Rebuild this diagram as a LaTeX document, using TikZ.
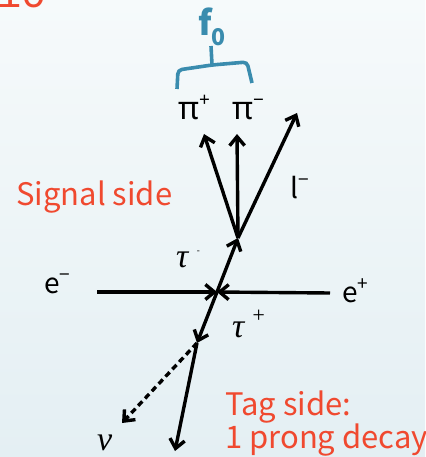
\documentclass[tikz,border=0pt]{standalone}
\usepackage{fontspec}
\usetikzlibrary{arrows.meta}
\newfontfamily\lblfont{Noto Sans CJK JP}
\newfontfamily\pifont{Noto Sans}
\newfontfamily\grkfont{Liberation Serif}
\newfontfamily\tenfont{Liberation Mono}
\definecolor{redtxt}{HTML}{F0492F}
\definecolor{bracecol}{HTML}{3A8CAE}
\definecolor{bgtop}{HTML}{F6FAFB}
\definecolor{bgmid}{HTML}{F3F8FA}
\definecolor{bgbot}{HTML}{E4EFF3}
\newcommand{\supsym}[1]{\raisebox{0.42em}{\fontsize{19}{19}\selectfont #1}}
\tikzset{
  arr/.style={line width=3.4pt, -{Straight Barb[length=9pt,width=15pt,line width=3.4pt]}},
  lbl/.style={inner sep=0pt, font=\lblfont\fontsize{28}{30}\selectfont, text=black},
  redlbl/.style={inner sep=0pt, font=\lblfont\fontsize{31}{33}\selectfont, text=redtxt, align=left},
  grklbl/.style={inner sep=0pt, font=\grkfont\itshape\fontsize{34}{36}\selectfont, text=black},
  bracestyle/.style={draw=bracecol, line width=3.6pt, rounded corners=4pt}
}
\begin{document}
\begin{tikzpicture}[x=1pt,y=-1pt]
\useasboundingbox (0,0) rectangle (425,457);
\clip (0,0) rectangle (425,457);
\shade[top color=bgtop, middle color=bgmid, bottom color=bgbot] (0,0) rectangle (425,457);
% partial red heading
\node[inner sep=0pt, anchor=base west, text=redtxt, font=\tenfont\fontsize{42}{42}\selectfont] (ten) at (-4,8) {10};
% vertices
\coordinate (C) at (217,292);
\coordinate (S) at (238,238);
\coordinate (T) at (197,343);
\coordinate (eL) at (97,292);
\coordinate (eR) at (330,293);
\coordinate (p1) at (204,134);
\coordinate (p2) at (237,134);
\coordinate (lm) at (297,113);
\coordinate (nu) at (122,423);
\coordinate (pr) at (175,451);
% arrows
\draw[arr] (eL) -- (C);
\draw[arr] (eR) -- (C);
\draw[arr] (C) -- (S);
\draw[arr] (S) -- (p1);
\draw[arr] (S) -- (p2);
\draw[arr] (S) -- (lm);
\draw[arr] (C) -- (T);
\draw[arr, dash pattern=on 6pt off 4pt] (T) -- (nu);
\draw[arr] (T) -- (pr);
% brace
\draw[bracestyle] (177,89) -- (178,70) -- (212,65) -- (247,62) -- (252,83);
\draw[bracestyle] (212,65) -- (211,46);
% labels
\node[inner sep=0pt, text=bracecol, font=\lblfont\bfseries\fontsize{34}{36}\selectfont] (f0) at (212,27) {f\raisebox{-0.28em}{\fontsize{23}{24}\selectfont 0}};
\node[inner sep=0pt, anchor=base west, font=\pifont\fontsize{32}{34}\selectfont] (pip) at (178,120) {π\supsym{+}};
\node[inner sep=0pt, anchor=base west, font=\pifont\fontsize{32}{34}\selectfont] (pim) at (232,120) {π\supsym{−}};
\node[lbl, anchor=base west] (lmin) at (290,198) {l\supsym{−}};
\node[lbl, anchor=base west] (em) at (44,293) {e\supsym{−}};
\node[lbl, anchor=base west] (ep) at (342,302) {e\supsym{+}};
\node[grklbl, anchor=base west] (taum) at (176,267) {τ\hspace{0.25em}\raisebox{0.4em}{\fontsize{9}{9}\selectfont -}};
\node[grklbl, anchor=base west] (taup) at (232,337) {τ\hspace{0.2em}\raisebox{0.42em}{\fontsize{22}{22}\selectfont +}};
\node[grklbl, anchor=base west] (nulbl) at (97,450) {ν};
\node[redlbl, anchor=base west] (sig) at (16,205) {Signal side};
\node[redlbl, anchor=base west] (tag1) at (225,415) {Tag side:};
\node[redlbl, anchor=base west] (tag2) at (225,448) {1 prong decay};
\end{tikzpicture}
\end{document}
